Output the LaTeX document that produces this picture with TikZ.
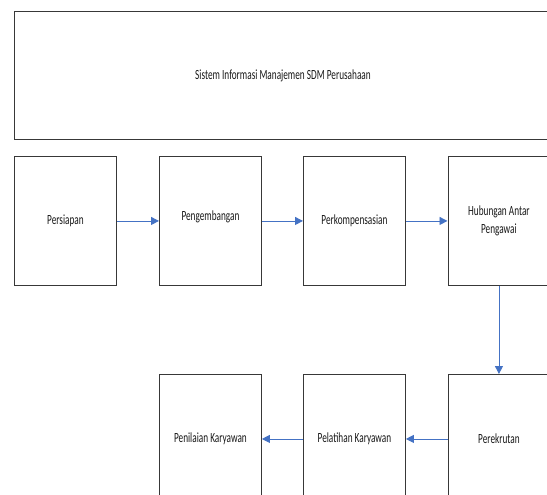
\documentclass[tikz,border=0pt]{standalone}
\usepackage{fontspec}
\setmainfont{Carlito}[FakeStretch=0.66]
\usetikzlibrary{arrows.meta}
\definecolor{arrowblue}{HTML}{4472C4}
\begin{document}
\begin{tikzpicture}[x=1pt,y=-1pt,
  box/.style={draw=black!78, line width=0.9pt, rectangle, minimum width=102pt, minimum height=129pt,
    inner sep=0pt, font=\fontsize{14}{18.5}\selectfont, text=black!90, align=center, anchor=north west},
  flow/.style={draw=arrowblue, line width=0.9pt, -{Triangle[length=8pt,width=8pt]}}]
\clip (0,0) rectangle (547,495);
\fill[white] (0,0) rectangle (547,495);
\node[box, minimum width=537pt, minimum height=128pt] (sis) at (14,11) {Sistem Informasi Manajemen SDM Perusahaan};
\node[box] (per) at (14,156) {Persiapan};
\node[box] (pgb) at (159,156) {\raisebox{10pt}{Pengembangan}};
\node[box] (pkm) at (303,156) {Perkompensasian};
\node[box] (hub) at (447.5,156) {Hubungan Antar\\Pengawai};
\node[box] (pen) at (159,374) {Penilaian Karyawan};
\node[box] (pel) at (303,374) {Pelatihan Karyawan};
\node[box] (rek) at (447.5,374) {Perekrutan};
\draw[flow] (per.east) -- (pgb.west);
\draw[flow] (pgb.east) -- (pkm.west);
\draw[flow] (pkm.east) -- (hub.west);
\draw[flow] (hub.south) -- (rek.north);
\draw[flow] (rek.west) -- (pel.east);
\draw[flow] (pel.west) -- (pen.east);
\end{tikzpicture}
\end{document}
